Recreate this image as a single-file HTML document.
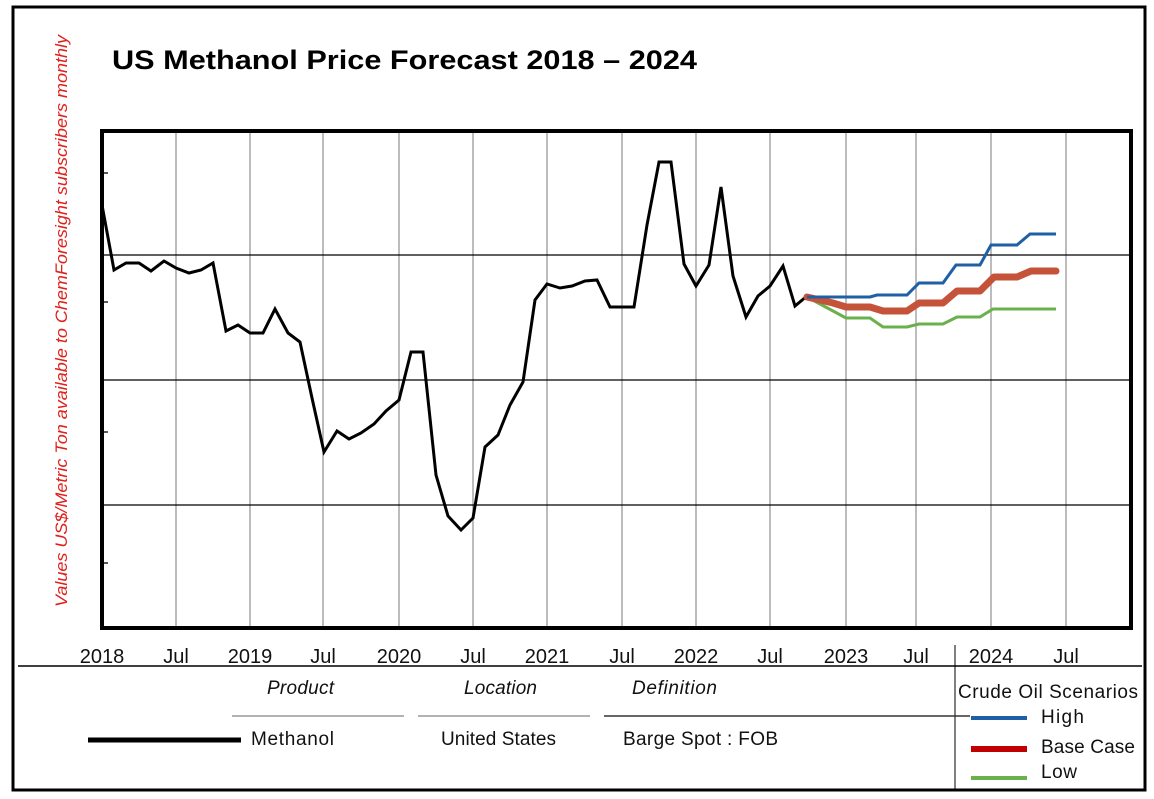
<!DOCTYPE html>
<html><head><meta charset="utf-8"><style>
html,body{margin:0;padding:0;background:#fff;}
svg{display:block;font-family:"Liberation Sans",sans-serif;}
</style></head><body>
<svg width="1154" height="799" viewBox="0 0 1154 799" xmlns="http://www.w3.org/2000/svg">
<rect x="0" y="0" width="1154" height="799" fill="#fff"/>
<rect x="13" y="7" width="1132" height="783" fill="none" stroke="#000" stroke-width="3"/>
<text x="112" y="69" font-size="27" font-weight="bold" textLength="585" lengthAdjust="spacingAndGlyphs">US Methanol Price Forecast 2018 – 2024</text>
<text transform="translate(67,321) rotate(-90)" text-anchor="middle" font-size="17" font-style="italic" fill="#e0201b" textLength="572" lengthAdjust="spacingAndGlyphs">Values US$/Metric Ton available to ChemForesight subscribers monthly</text>
<g stroke="#999" stroke-width="1.3">
<line x1="176" y1="131" x2="176" y2="628"/><line x1="250" y1="131" x2="250" y2="628"/>
<line x1="323" y1="131" x2="323" y2="628"/><line x1="399" y1="131" x2="399" y2="628"/>
<line x1="473" y1="131" x2="473" y2="628"/><line x1="547" y1="131" x2="547" y2="628"/>
<line x1="622" y1="131" x2="622" y2="628"/><line x1="696" y1="131" x2="696" y2="628"/>
<line x1="770" y1="131" x2="770" y2="628"/><line x1="846" y1="131" x2="846" y2="628"/>
<line x1="916" y1="131" x2="916" y2="628"/><line x1="991" y1="131" x2="991" y2="628"/>
<line x1="1066" y1="131" x2="1066" y2="628"/>
</g>
<g stroke="#000" stroke-width="1.3">
<line x1="102" y1="255" x2="1131" y2="255"/><line x1="102" y1="380" x2="1131" y2="380"/><line x1="102" y1="505" x2="1131" y2="505"/>
<line x1="102" y1="173" x2="108" y2="173"/><line x1="102" y1="302" x2="108" y2="302"/><line x1="102" y1="432" x2="108" y2="432"/><line x1="102" y1="563" x2="108" y2="563"/>
</g>
<rect x="102" y="131" width="1029" height="497" fill="none" stroke="#000" stroke-width="4"/>
<polyline fill="none" stroke="#000" stroke-width="3" points="102,205 114,270 126,263 139,263 151,271 164,261 176,268 189,273 201,270 213,263 226,331 238,325 250,333 263,333 275,309 288,333 300,342 312,398 324,452 337,431 349,439 361,433 374,424 386,411 399,400 411,352 423,352 436,475 448,516 461,530 473,518 485,447 498,435 510,405 523,382 535,300 547,284 560,288 572,286 585,281 597,280 610,307 622,307 634,307 647,225 659,162 671,162 684,264 696,286 709,265 721,187 733,276 746,317 758,296 770,286 783,266 795,306 807,296"/>
<polyline fill="none" stroke="#6ab04c" stroke-width="3" points="807,297 846,318 870,318 883,327 907,327 919,324 943,324 957,317 980,317 993,309 1056,309"/>
<polyline fill="none" stroke="#c4533a" stroke-width="7" stroke-linecap="round" stroke-linejoin="round" points="807,297 833,303 846,307 870,307 883,311 907,311 919,303 943,303 957,291 980,291 994,277 1017,277 1031,271 1056,271"/>
<polyline fill="none" stroke="#1f5fa6" stroke-width="3" points="807,297 846,297 870,297 877,295 907,295 919,283 943,283 956,265 980,265 991,245 1017,245 1030,234 1056,234"/>
<g font-size="20" text-anchor="middle" fill="#111">
<text x="102" y="663">2018</text><text x="176" y="663">Jul</text><text x="250" y="663">2019</text>
<text x="323" y="663">Jul</text><text x="399" y="663">2020</text><text x="473" y="663">Jul</text>
<text x="547" y="663">2021</text><text x="622" y="663">Jul</text><text x="696" y="663">2022</text>
<text x="770" y="663">Jul</text><text x="846" y="663">2023</text><text x="916" y="663">Jul</text>
<text x="991" y="663">2024</text><text x="1066" y="663">Jul</text>
</g>
<line x1="18" y1="666" x2="1142" y2="666" stroke="#000" stroke-width="1.5"/>
<line x1="955" y1="645" x2="955" y2="790" stroke="#000" stroke-width="1"/>
<g font-size="19" fill="#111" lengthAdjust="spacingAndGlyphs">
<text x="267" y="694" font-style="italic" textLength="67">Product</text>
<text x="464" y="694" font-style="italic" textLength="73">Location</text>
<text x="632" y="694" font-style="italic" textLength="85">Definition</text>
<text x="958" y="698" textLength="180">Crude Oil Scenarios</text>
<text x="251" y="745" textLength="83">Methanol</text>
<text x="441" y="745" textLength="115">United States</text>
<text x="623" y="745" textLength="155">Barge Spot : FOB</text>
<text x="1041" y="723" textLength="43">High</text>
<text x="1041" y="753" textLength="94">Base Case</text>
<text x="1041" y="778" textLength="36">Low</text>
</g>
<g stroke="#999" stroke-width="1.5">
<line x1="232" y1="716" x2="404" y2="716"/><line x1="418" y1="716" x2="590" y2="716"/>
</g>
<line x1="604" y1="716" x2="970" y2="716" stroke="#333" stroke-width="1.5"/>
<line x1="88" y1="740" x2="241" y2="740" stroke="#000" stroke-width="5"/>
<line x1="971" y1="718" x2="1027" y2="718" stroke="#1f5fa6" stroke-width="4"/>
<line x1="971" y1="749" x2="1027" y2="749" stroke="#c00000" stroke-width="6"/>
<line x1="971" y1="778" x2="1027" y2="778" stroke="#6ab04c" stroke-width="4"/>
</svg>
</body></html>
